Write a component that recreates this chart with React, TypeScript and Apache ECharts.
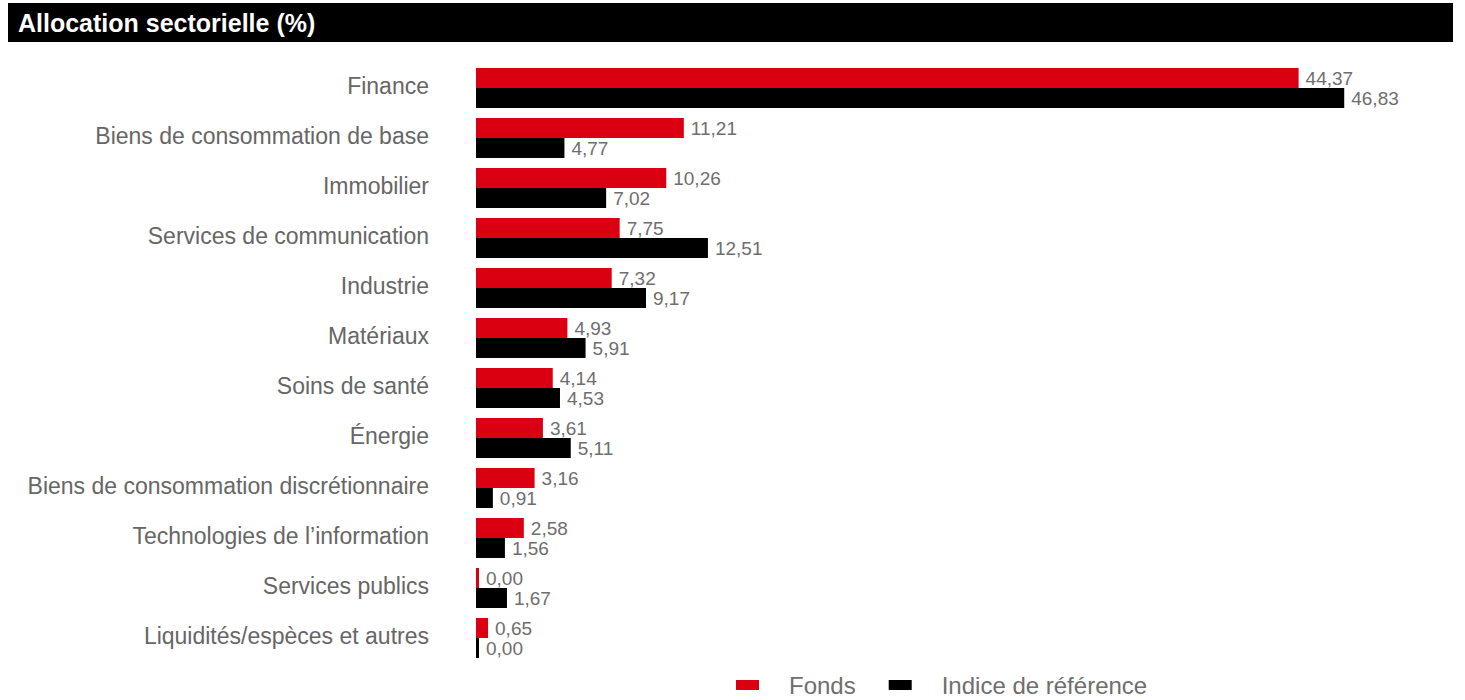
import React, { useEffect, useRef } from "react";
import * as echarts from "echarts";

const categories = [
  "Finance",
  "Biens de consommation de base",
  "Immobilier",
  "Services de communication",
  "Industrie",
  "Matériaux",
  "Soins de santé",
  "Énergie",
  "Biens de consommation discrétionnaire",
  "Technologies de l’information",
  "Services publics",
  "Liquidités/espèces et autres",
];
const fondsValues = [44.37, 11.21, 10.26, 7.75, 7.32, 4.93, 4.14, 3.61, 3.16, 2.58, 0.0, 0.65];
const indiceValues = [46.83, 4.77, 7.02, 12.51, 9.17, 5.91, 4.53, 5.11, 0.91, 1.56, 1.67, 0.0];
const seriesNames = ["Fonds", "Indice de référence"];
const title = "Allocation sectorielle (%)";

const FONT = "'Liberation Sans', Arial, sans-serif";
const fmt = (p: any) => Number(p.value).toFixed(2).replace(".", ",");

export default function App() {
  const ref = useRef<HTMLDivElement>(null);
  useEffect(() => {
    document.body.style.margin = "0";
    const chart = echarts.init(ref.current!, null, { renderer: "svg" });
    const labelCfg = {
      show: true,
      position: "right",
      distance: 7,
      formatter: fmt,
      color: "#6e6e6e",
      fontSize: 19,
      fontFamily: FONT,
    };
    chart.setOption({
      animation: false,
      textStyle: { fontFamily: FONT },
      graphic: [
        { type: "rect", shape: { x: 8, y: 3, width: 1445, height: 39 }, style: { fill: "#000" } },
        {
          type: "text",
          x: 18,
          y: 23,
          style: {
            text: title,
            fill: "#fff",
            font: `bold 25px ${FONT}`,
            verticalAlign: "middle",
          },
        },
      ],
      legend: {
        data: seriesNames,
        left: 736,
        top: 673,
        padding: 0,
        icon: "rect",
        itemWidth: 23,
        itemHeight: 10,
        itemGap: 33,
        textStyle: { fontSize: 24, color: "#6e6e6e", fontFamily: FONT, padding: [0, 0, 0, 25] },
      },
      grid: { left: 476, top: 63, width: 927, height: 600 },
      xAxis: {
        type: "value",
        min: 0,
        max: 50,
        axisLine: { show: false },
        axisTick: { show: false },
        axisLabel: { show: false },
        splitLine: { show: false },
      },
      yAxis: {
        type: "category",
        inverse: true,
        data: categories,
        axisLine: { show: false },
        axisTick: { show: false },
        axisLabel: {
          margin: 47,
          formatter: (v: string) => `{c|${v}}`,
          rich: {
            c: {
              fontSize: 23,
              color: "#666",
              fontFamily: FONT,
              padding: [0, 0, 5, 0],
            },
          },
        },
      },
      series: [
        {
          name: seriesNames[0],
          type: "bar",
          data: fondsValues,
          barWidth: 20,
          barGap: "0%",
          barMinHeight: 3,
          itemStyle: { color: "#db0011" },
          label: labelCfg,
        },
        {
          name: seriesNames[1],
          type: "bar",
          data: indiceValues,
          barWidth: 20,
          barGap: "0%",
          barMinHeight: 3,
          itemStyle: { color: "#000" },
          label: labelCfg,
        },
      ],
    });
    return () => chart.dispose();
  }, []);
  return <div ref={ref} style={{ width: 1465, height: 700 }} />;
}
